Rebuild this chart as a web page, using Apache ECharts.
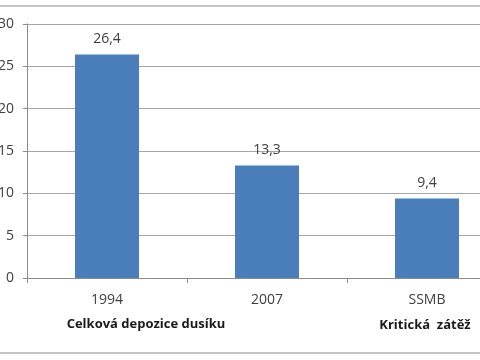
<!DOCTYPE html>
<html><head><meta charset="utf-8">
<script src="https://cdn.jsdelivr.net/npm/echarts@6/dist/echarts.min.js"></script>
<style>html,body{margin:0;padding:0;background:#fff;overflow:hidden;width:480px;height:360px}#c{width:507px;height:360px}</style>
</head><body><div id="c"></div>
<script>
var categories = ['1994', '2007', 'SSMB'];
var values = [26.4, 13.3, 9.4];
var yTicks = [0, 5, 10, 15, 20, 25, 30];
var groupLabels = ['Celková depozice dusíku', 'Kritická  zátěž'];

var chart = echarts.init(document.getElementById('c'), null, {renderer: 'canvas'});
var font = '"Open Sans", "Liberation Sans", sans-serif';
chart.setOption({
  animation: false,
  backgroundColor: '#fff',
  grid: {left: 27, top: 24, right: 0, bottom: 82, containLabel: false, outerBoundsMode: 'none'},
  xAxis: {
    type: 'category', data: categories,
    axisLine: {show: true, lineStyle: {color: '#8c8c8c', width: 1}},
    axisTick: {show: true, length: 5, lineStyle: {color: '#8c8c8c'}},
    axisLabel: {color: '#404040', fontSize: 14, fontFamily: font, margin: 15}
  },
  yAxis: {
    type: 'value', min: yTicks[0], max: yTicks[yTicks.length - 1], interval: 5,
    axisLine: {show: true, lineStyle: {color: '#8c8c8c', width: 1}},
    axisTick: {show: true, length: 4, lineStyle: {color: '#8c8c8c'}},
    axisLabel: {color: '#404040', fontSize: 14, fontFamily: font, margin: 13},
    splitLine: {show: true, lineStyle: {color: '#a6a6a6', width: 1}}
  },
  series: [{
    type: 'bar', data: values, barWidth: '40%',
    itemStyle: {color: '#4a7ebb'},
    label: {show: true, position: 'top', distance: 8, color: '#404040', fontSize: 14, fontFamily: font,
      formatter: function (p) { return String(p.value).replace('.', ','); }}
  }],
  graphic: [
    {type: 'line', shape: {x1: 0, y1: 6, x2: 507, y2: 6}, style: {stroke: '#b3b3b3', lineWidth: 1.5}},
    {type: 'line', shape: {x1: 0, y1: 353, x2: 507, y2: 353}, style: {stroke: '#b3b3b3', lineWidth: 1.5}},
    {type: 'text', x: 146, y: 324, style: {text: groupLabels[0], fill: '#1a1a1a', font: 'bold 13px ' + font, textAlign: 'center', textVerticalAlign: 'middle'}},
    {type: 'text', x: 425, y: 325, style: {text: groupLabels[1], fill: '#1a1a1a', font: 'bold 13px ' + font, textAlign: 'center', textVerticalAlign: 'middle'}}
  ]
});
</script></body></html>
